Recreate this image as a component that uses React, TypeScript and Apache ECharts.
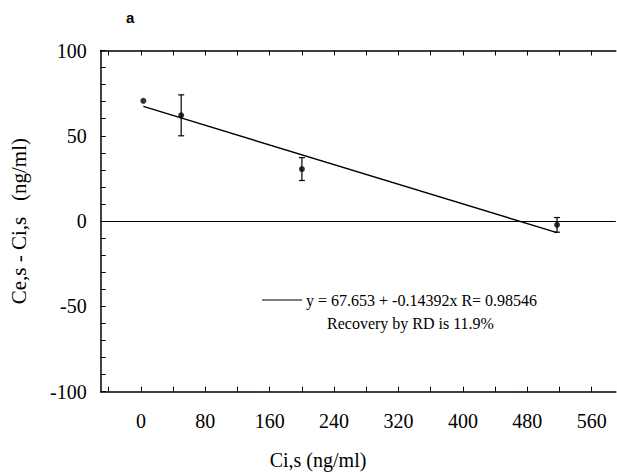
import React, { useEffect, useRef } from "react";
import * as echarts from "echarts";

// Measured concentrations (ng/ml) and the difference Ce,s - Ci,s
const concentrations = [3, 50, 200, 517];
const differences = [70.5, 62, 30.5, -2.2];
const errors = [0, 12, 6.7, 4.3];

// Least-squares fit stated in the legend
const intercept = 67.653;
const slope = -0.14392;
const rValue = 0.98546;

const xLabelValues = [0, 80, 160, 240, 320, 400, 480, 560];
const xTickValues = [-40, 0, 40, 80, 120, 160, 200, 240, 280, 320, 360, 400, 440, 480, 520, 560];

const SERIF = "'Liberation Serif', 'Times New Roman', serif";

export default function App() {
  const ref = useRef<HTMLDivElement>(null);

  useEffect(() => {
    if (!ref.current) return;
    const chart = echarts.init(ref.current, null, { renderer: "svg" });

    const points = concentrations.map((x, i) => [x, differences[i], errors[i]]);
    const xFirst = concentrations[0];
    const xLast = concentrations[concentrations.length - 1];
    const fitLine = [
      [xFirst, intercept + slope * xFirst],
      [xLast, intercept + slope * xLast],
    ];

    chart.setOption({
      animation: false,
      backgroundColor: "#ffffff",
      grid: { left: 100.7, right: 1.2, top: 50.5, bottom: 81.3 },
      xAxis: [
        {
          type: "value",
          min: -50,
          max: 590,
          position: "bottom",
          axisLine: { show: true, onZero: false, lineStyle: { color: "#000", width: 1.5 } },
          axisTick: { show: true, inside: true, length: 5, customValues: xTickValues, lineStyle: { color: "#000" } },
          axisLabel: {
            customValues: xLabelValues,
            color: "#000",
            fontFamily: SERIF,
            fontSize: 20,
            margin: 19,
          },
          splitLine: { show: false },
        },
        {
          type: "value",
          min: -50,
          max: 590,
          position: "top",
          axisLine: { show: true, onZero: false, lineStyle: { color: "#000", width: 1.5 } },
          axisTick: { show: true, inside: true, length: 5, customValues: xTickValues, lineStyle: { color: "#000" } },
          axisLabel: { show: false },
          splitLine: { show: false },
        },
      ],
      yAxis: {
        type: "value",
        min: -100,
        max: 100,
        interval: 50,
        axisLine: { show: true, onZero: false, lineStyle: { color: "#000", width: 1.5 } },
        axisTick: { show: true, inside: true, length: 5, lineStyle: { color: "#000" } },
        minorTick: { show: true, splitNumber: 5, length: 5, lineStyle: { color: "#000" } },
        axisLabel: { color: "#000", fontFamily: SERIF, fontSize: 20, margin: 14 },
        splitLine: { show: false },
        name: "Ce,s - Ci,s   (ng/ml)",
        nameLocation: "middle",
        nameRotate: 90,
        nameGap: 71,
        nameTextStyle: { color: "#000", fontFamily: SERIF, fontSize: 21 },
      },
      series: [
        {
          type: "line",
          data: fitLine,
          symbol: "none",
          lineStyle: { color: "#000", width: 1.4 },
          silent: true,
          markLine: {
            silent: true,
            symbol: "none",
            label: { show: false },
            lineStyle: { color: "#000", width: 1, type: "solid" },
            data: [{ yAxis: 0 }],
          },
        },
        {
          type: "custom",
          data: points,
          renderItem: (params: any, api: any) => {
            const x = api.value(0);
            const y = api.value(1);
            const e = api.value(2);
            if (!e) return { type: "group", children: [] };
            const top = api.coord([x, y + e]);
            const bot = api.coord([x, y - e]);
            const cap = 3;
            const style = { stroke: "#000", lineWidth: 1.2 };
            return {
              type: "group",
              children: [
                { type: "line", shape: { x1: top[0], y1: top[1], x2: bot[0], y2: bot[1] }, style },
                { type: "line", shape: { x1: top[0] - cap, y1: top[1], x2: top[0] + cap, y2: top[1] }, style },
                { type: "line", shape: { x1: bot[0] - cap, y1: bot[1], x2: bot[0] + cap, y2: bot[1] }, style },
              ],
            };
          },
          silent: true,
          z: 3,
        },
        {
          type: "scatter",
          data: points.map((p) => [p[0], p[1]]),
          symbol: "circle",
          symbolSize: 6,
          itemStyle: { color: "#000" },
          silent: true,
          z: 4,
        },
      ],
      graphic: [
        {
          type: "text",
          left: 126,
          top: 10,
          style: { text: "a", fontFamily: "'Liberation Sans', Arial, sans-serif", fontWeight: "bold", fontSize: 15, fill: "#000" },
        },
        {
          type: "line",
          shape: { x1: 262, y1: 300, x2: 302, y2: 300 },
          style: { stroke: "#000", lineWidth: 1.2 },
        },
        {
          type: "text",
          x: 306,
          y: 300,
          style: {
            text: `y = ${intercept} + ${slope}x R= ${rValue}`,
            fontFamily: SERIF,
            fontSize: 16,
            fill: "#000",
            verticalAlign: "middle",
          },
        },
        {
          type: "text",
          x: 327,
          y: 323,
          style: {
            text: "Recovery by RD is 11.9%",
            fontFamily: SERIF,
            fontSize: 16,
            fill: "#000",
            verticalAlign: "middle",
          },
        },
        {
          type: "text",
          x: 318,
          y: 460,
          style: {
            text: "Ci,s (ng/ml)",
            fontFamily: SERIF,
            fontSize: 20,
            fill: "#000",
            align: "center",
            verticalAlign: "middle",
          },
        },
      ],
    });

    return () => chart.dispose();
  }, []);

  return (
    <div
      ref={ref}
      style={{ position: "fixed", left: 0, top: 0, width: 617, height: 473 }}
    />
  );
}
